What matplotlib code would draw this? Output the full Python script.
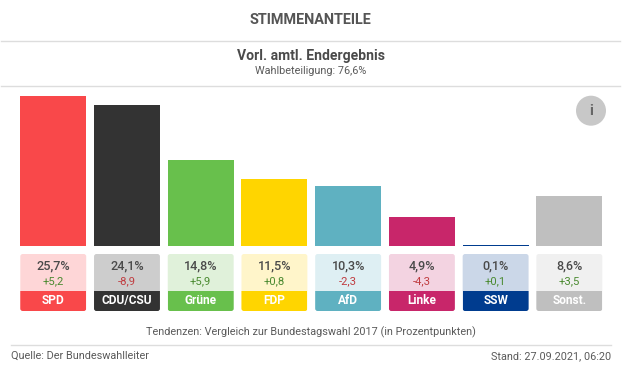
import matplotlib
matplotlib.use("Agg")
import matplotlib.pyplot as plt
from matplotlib.patches import FancyBboxPatch, Rectangle, Circle

plt.rcParams['font.family'] = ['Roboto', 'DejaVu Sans']

parties = ["SPD", "CDU/CSU", "Grüne", "FDP", "AfD", "Linke", "SSW", "Sonst."]
shares = [25.7, 24.1, 14.8, 11.5, 10.3, 4.9, 0.1, 8.6]
share_labels = ["25,7%", "24,1%", "14,8%", "11,5%", "10,3%", "4,9%", "0,1%", "8,6%"]
trend_labels = ["+5,2", "-8,9", "+5,9", "+0,8", "-2,3", "-4,3", "+0,1", "+3,5"]
colors = ["#f9484a", "#333333", "#68c04c", "#ffd500", "#5fb1c1", "#c8266a", "#003c8f", "#bfbfbf"]
light_colors = ["#fed6d7", "#cdcdcd", "#e0f1da", "#fff5ca", "#deeff3", "#f3d3e1", "#cbd7e8", "#f0f0f0"]

W, H = 625, 370
fig = plt.figure(figsize=(W / 100, H / 100), dpi=100)

# whole figure in pixels, y going down like the screenshot
bg = fig.add_axes([0, 0, 1, 1])
bg.set_xlim(0, W)
bg.set_ylim(H, 0)
bg.axis('off')

# bars get their own axes
left, right, top, base = 20.3, 602.3, 96, 246
ax = fig.add_axes([left / W, 1 - base / H, (right - left) / W, (base - top) / H])
bar_w = 0.894
ax.bar(range(len(parties)), shares, width=bar_w, color=colors)
ax.set_xlim(-bar_w / 2, len(parties) - 1 + bar_w / 2)
ax.set_ylim(0, max(shares))
ax.axis('off')

dark = "#4a4a4a"
grey = "#5a5a5a"
bg.text(310.5, 19.5, "STIMMENANTEILE", ha='center', va='center', fontsize=10.4, weight='bold', color="#555555")
bg.text(311, 56, "Vorl. amtl. Endergebnis", ha='center', va='center', fontsize=10.05, weight='bold', color=dark)
bg.text(311, 71, "Wahlbeteiligung: 76,6%", ha='center', va='center', fontsize=7.85, color=grey)
for y, x0, x1 in [(40.5, 1, 620), (85.5, 1, 620), (344.5, 11, 611)]:
    bg.plot([x0, x1], [y, y], color="#dddddd", lw=1)

# info button
bg.add_patch(Circle((591, 110.7), 15, color="#c8c8c8", lw=0))
bg.text(591, 111, "i", ha='center', va='center', fontsize=10.8, weight='bold', color="#666666")

# cards under the bars
pitch = (right - left - bar_w * (right - left) / (len(parties) - 1 + bar_w)) / (len(parties) - 1)
card_w = right - left - pitch * (len(parties) - 1)
for i, party in enumerate(parties):
    x0 = left + i * pitch
    cx = x0 + card_w / 2
    card = FancyBboxPatch((x0, 254), card_w, 57, boxstyle="round,pad=0,rounding_size=2.5",
                          fc=light_colors[i], ec='none')
    bg.add_patch(card)
    band = Rectangle((x0, 291), card_w, 20, fc=colors[i], ec='none')
    bg.add_patch(band)
    band.set_clip_path(card)
    bg.text(cx, 266, share_labels[i], ha='center', va='center', fontsize=9.1, weight='medium', color=dark)
    trend_color = "#c03c40" if trend_labels[i].startswith("-") else "#4a8a30"
    bg.text(cx, 281.5, trend_labels[i], ha='center', va='center', fontsize=8.1, color=trend_color)
    bg.text(cx, 300.5, party, ha='center', va='center', fontsize=8.6, weight='bold', color="white")

bg.text(311, 332, "Tendenzen: Vergleich zur Bundestagswahl 2017 (in Prozentpunkten)", ha='center', va='center',
        fontsize=7.85, color=grey)
bg.text(11, 356, "Quelle: Der Bundeswahlleiter", ha='left', va='center', fontsize=7.85, color=grey)
bg.text(611, 356, "Stand: 27.09.2021, 06:20", ha='right', va='center', fontsize=7.85, color=grey)

fig.savefig("out.png", dpi=100)
